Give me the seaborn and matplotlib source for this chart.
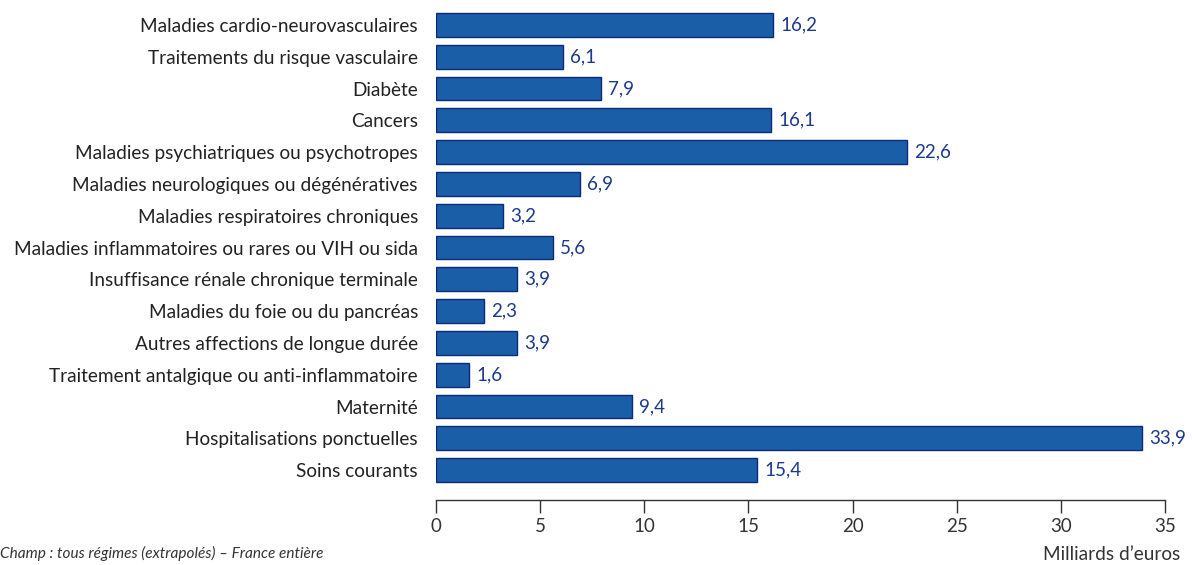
import matplotlib
matplotlib.use("Agg")
import matplotlib.pyplot as plt
import seaborn as sns
import pandas as pd

categories = [
    "Maladies cardio-neurovasculaires",
    "Traitements du risque vasculaire",
    "Diabète",
    "Cancers",
    "Maladies psychiatriques ou psychotropes",
    "Maladies neurologiques ou dégénératives",
    "Maladies respiratoires chroniques",
    "Maladies inflammatoires ou rares ou VIH ou sida",
    "Insuffisance rénale chronique terminale",
    "Maladies du foie ou du pancréas",
    "Autres affections de longue durée",
    "Traitement antalgique ou anti-inflammatoire",
    "Maternité",
    "Hospitalisations ponctuelles",
    "Soins courants",
]
values = [16.2, 6.1, 7.9, 16.1, 22.6, 6.9, 3.2, 5.6, 3.9, 2.3, 3.9, 1.6, 9.4, 33.9, 15.4]
xticks = [0, 5, 10, 15, 20, 25, 30, 35]

sns.set_style("white")
plt.rcParams['font.family'] = ['Lato', 'DejaVu Sans']

df = pd.DataFrame({"cat": categories, "val": values})

fig = plt.figure(figsize=(11.92, 5.65), dpi=100)
ax = fig.add_axes([436/1192, 65/565, (1165-436)/1192, (500-9)/565])

sns.barplot(data=df, x="val", y="cat", orient="h", color="#1a5ea8",
            edgecolor="#0b2a78", linewidth=1.0, width=0.75, saturation=1, ax=ax)

for i, v in enumerate(values):
    ax.text(v + 0.35, i, f"{v:.1f}".replace(".", ","), va="center", ha="left",
            fontsize=13.5, color="#1b3a8c")

ax.set_xlim(0, 35)
ax.set_ylim(14.94, -0.5)
ax.set_xticks(xticks)
ax.set_xticklabels([str(t) for t in xticks], fontsize=13.5, color="#333333")
ax.set_xlabel("")
ax.set_ylabel("")
ax.tick_params(axis="y", left=False, length=0, pad=13, labelsize=13.7, labelcolor="#222222")
ax.tick_params(axis="x", bottom=True, direction="out", length=9, width=1, color="#333333", pad=4)
for s in ["top", "right", "left"]:
    ax.spines[s].set_visible(False)
ax.spines["bottom"].set_color("#333333")
ax.spines["bottom"].set_linewidth(1)

fig.text(0/1192, 1 - 553/565, "Champ : tous régimes (extrapolés) – France entière",
         fontsize=11.1, style="italic", color="#333333", va="center", ha="left")
fig.text(1180/1192, 1 - 555/565, "Milliards d’euros", fontsize=13.7, color="#333333",
         va="center", ha="right")

fig.savefig("out.png", dpi=100)
